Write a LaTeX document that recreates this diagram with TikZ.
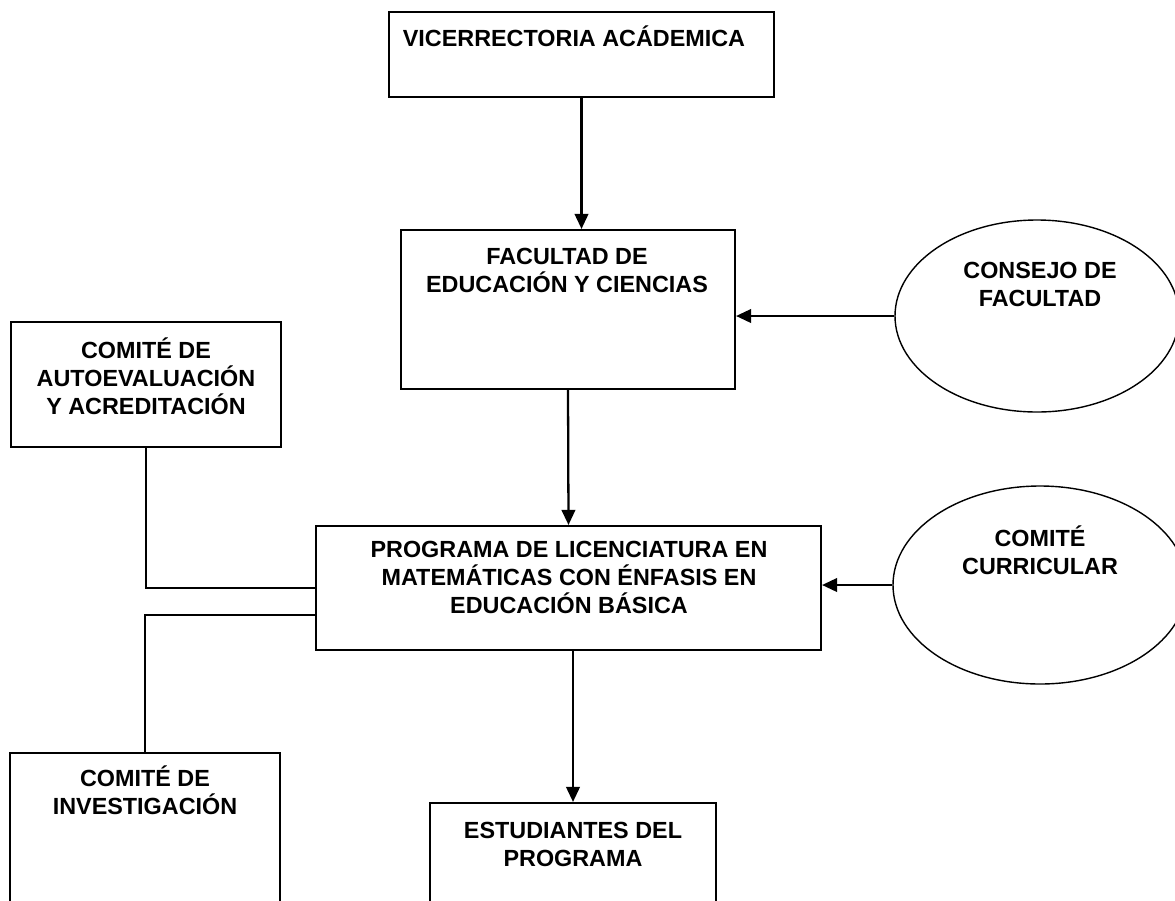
\documentclass[tikz,border=0pt]{standalone}
\usepackage{fontspec}
\setmainfont{Liberation Sans}
\usetikzlibrary{arrows.meta,shapes.geometric}

\tikzset{
  caja/.style 2 args={draw, line width=1.2pt, minimum width=#1*0.02cm, minimum height=#2*0.02cm, inner sep=0pt},
  globo/.style 2 args={draw, ellipse, line width=0.8pt, minimum width=#1*0.02cm, minimum height=#2*0.02cm, inner sep=0pt},
  rotulo/.style={font=\fontsize{13.3}{15.9}\selectfont\bfseries, align=center, anchor=base, inner sep=0pt},
  flecha/.style={line width=1.3pt, -{Triangle[length=0.3cm,width=0.27cm]}},
  enlace/.style={line width=1.2pt}
}

\begin{document}
\begin{tikzpicture}[x=0.02cm,y=-0.02cm]
\useasboundingbox (0,0) rectangle (1175,900);
\clip (0,0) rectangle (1175,900);

% cajas (el texto va anclado en la linea base de su ultima linea)
\node[caja={385}{85}] (vic) at (581.5,54.5) {};
\node[rotulo] (vic-t) at (574,46) {VICERRECTORIA ACÁDEMICA};
\node[caja={334}{159}] (fac) at (568,309.5) {};
\node[rotulo] (fac-t) at (567,292) {FACULTAD DE\\EDUCACIÓN Y CIENCIAS};
\node[caja={270}{125}] (auto) at (146,384.5) {};
\node[rotulo] (auto-t) at (146,414) {COMITÉ DE\\AUTOEVALUACIÓN\\Y ACREDITACIÓN};
\node[caja={505}{124}] (prog) at (568.5,588) {};
\node[rotulo] (prog-t) at (569,613) {PROGRAMA DE LICENCIATURA EN\\MATEMÁTICAS CON ÉNFASIS EN\\EDUCACIÓN BÁSICA};
\node[caja={270}{180}] (inv) at (145,843) {};
\node[rotulo] (inv-t) at (145,814) {COMITÉ DE\\INVESTIGACIÓN};
\node[caja={286}{130}] (est) at (573,868) {};
\node[rotulo] (est-t) at (573,866) {ESTUDIANTES DEL\\PROGRAMA};

% consejos
\node[globo={284}{192}] (cons) at (1037,316) {};
\node[rotulo] (cons-t) at (1040,306) {CONSEJO DE\\FACULTAD};
\node[globo={294}{198}] (curr) at (1040,585) {};
\node[rotulo] (curr-t) at (1040,574) {COMITÉ\\CURRICULAR};

% conexiones
\draw[flecha] (vic.south) -- (vic.south |- fac.north);
\draw[flecha] (fac.south) -- (prog.north);
\draw[flecha] (prog.south -| est.north) -- (est.north);
\draw[flecha] (cons.west) -- (cons.west -| fac.east);
\draw[flecha] (curr.west) -- (curr.west -| prog.east);
\draw[enlace] (auto.south) |- (prog.west);
\draw[enlace] (prog.186) -| (inv.north);
\end{tikzpicture}
\end{document}
